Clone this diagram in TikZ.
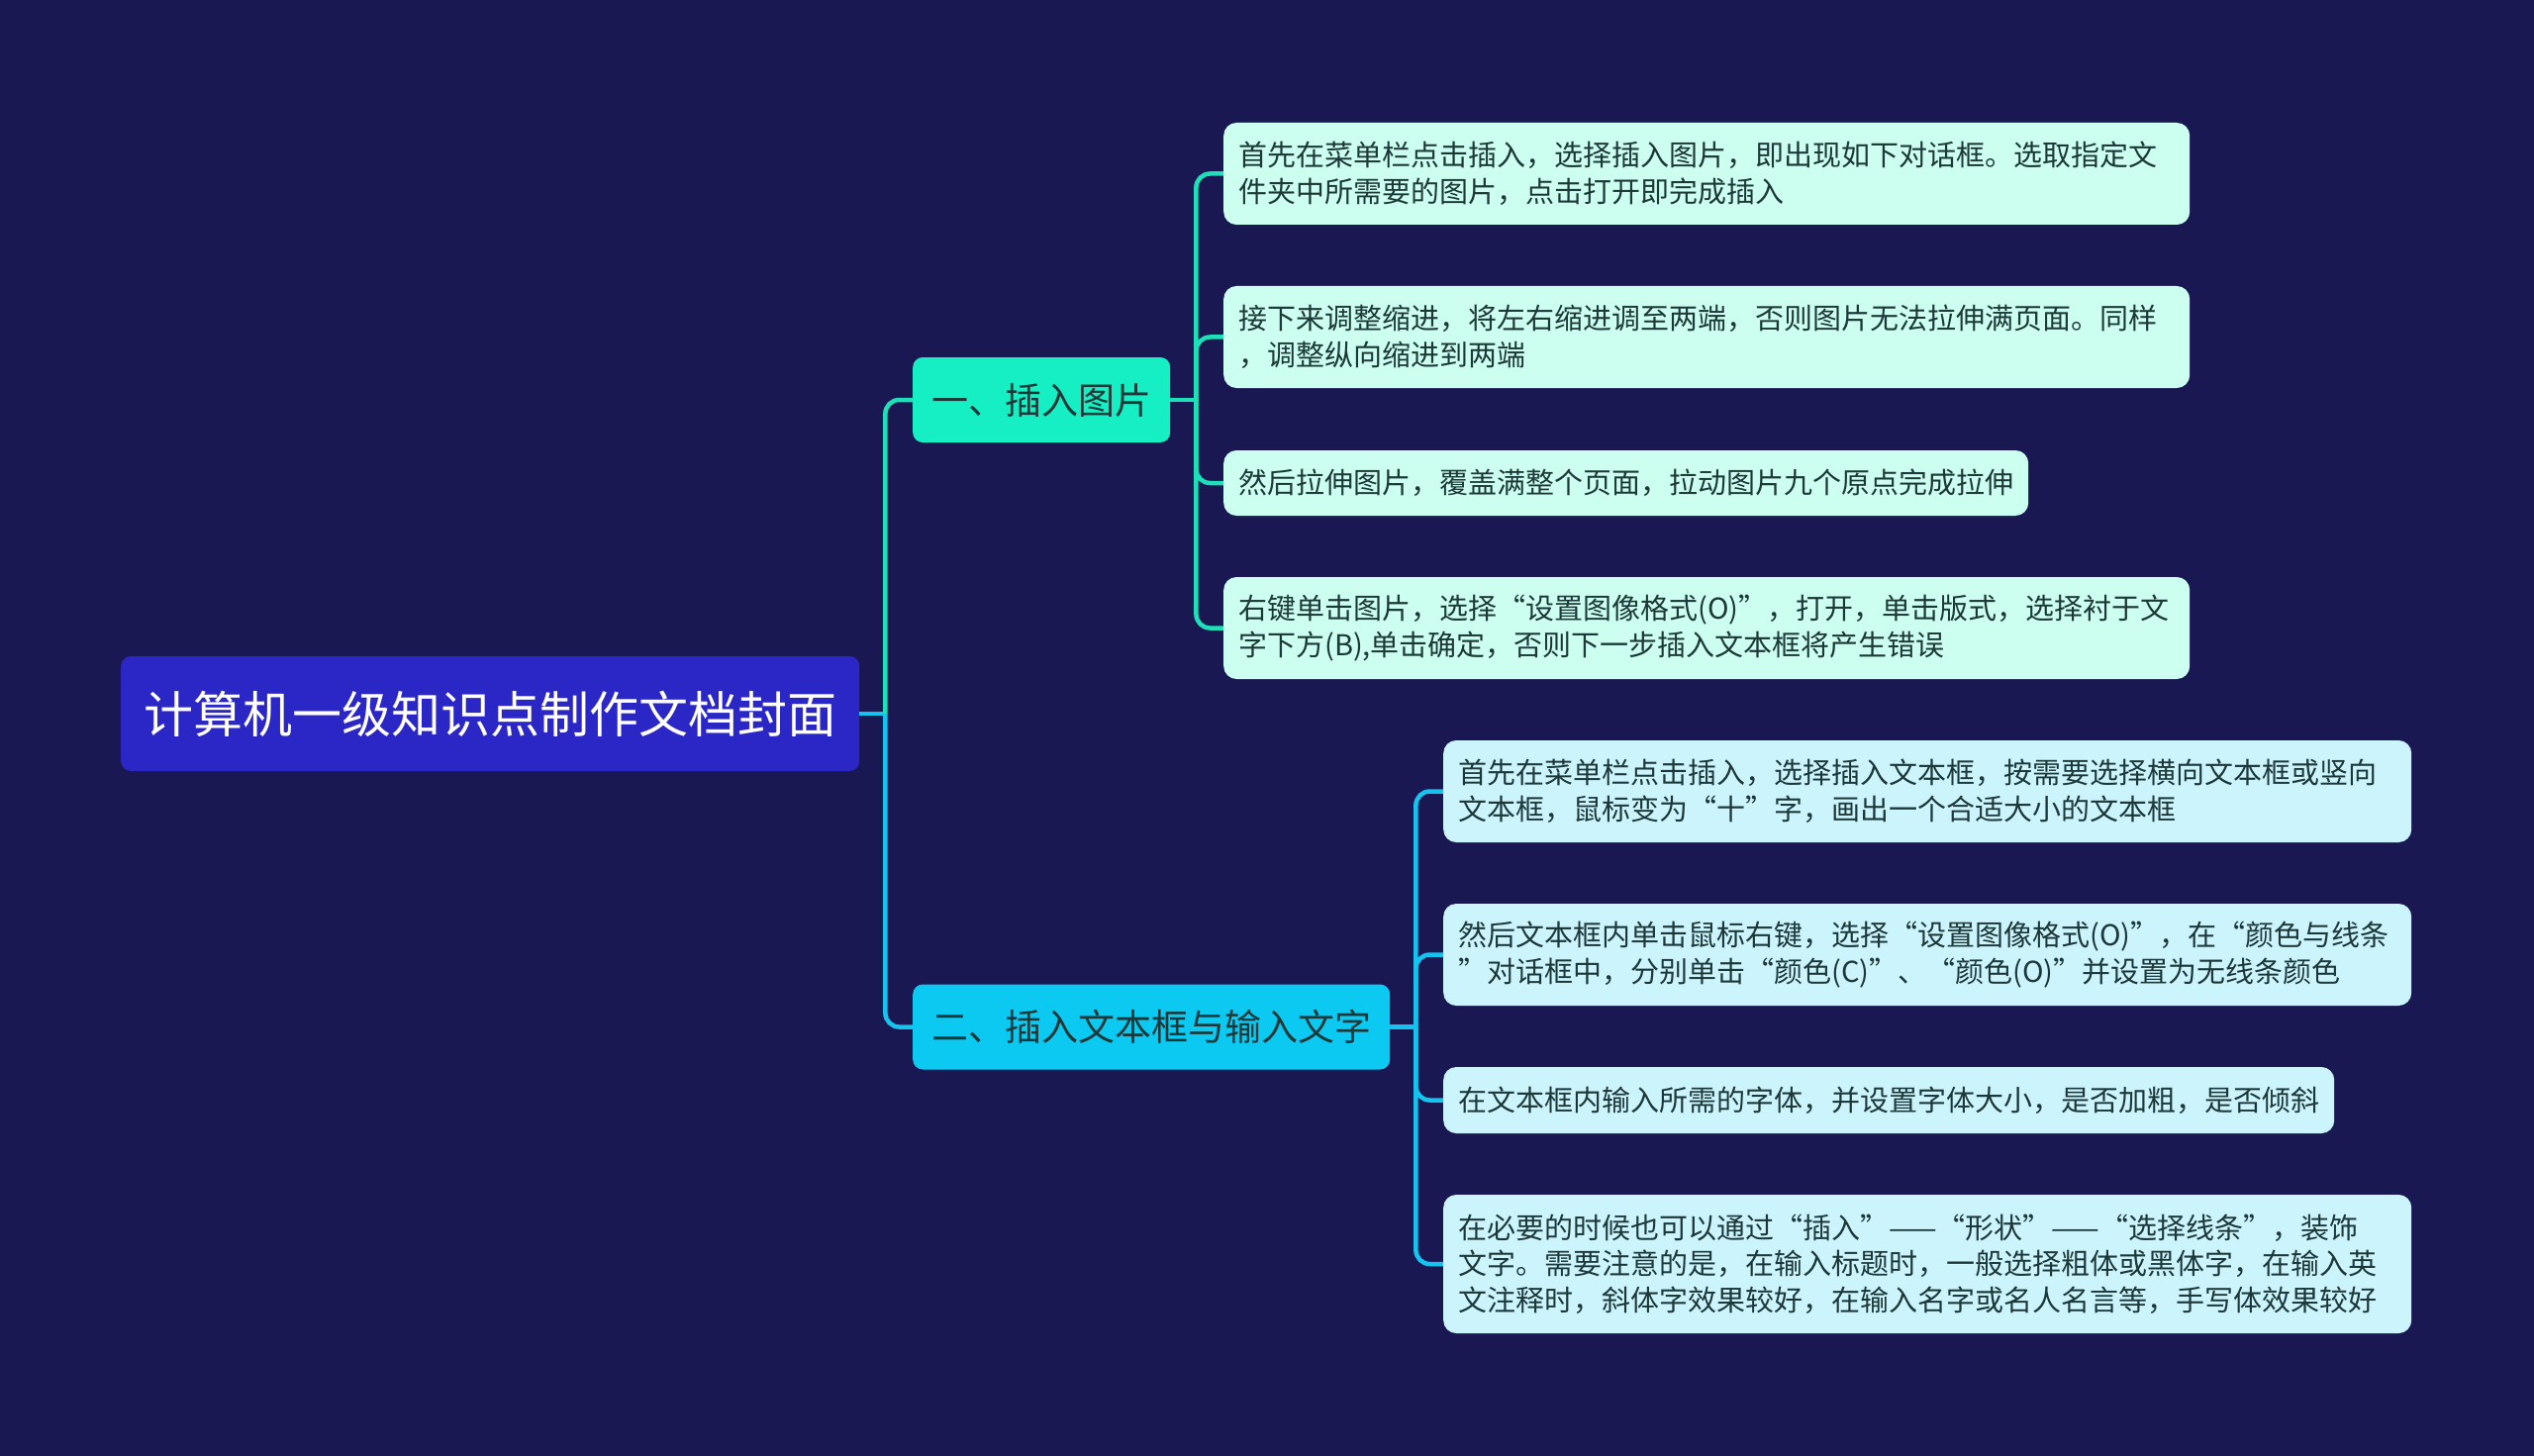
\documentclass[tikz,border=0pt]{standalone}
\usepackage{fontspec}
\setmainfont{Noto Sans CJK SC}
\usetikzlibrary{calc}
\definecolor{bg}{HTML}{1A1852}
\definecolor{rootc}{HTML}{2A27C6}
\definecolor{bonec}{HTML}{16EFC4}
\definecolor{btwoc}{HTML}{0BC9F1}
\definecolor{leafone}{HTML}{CCFFF0}
\definecolor{leaftwo}{HTML}{CCF4FD}
\definecolor{lineone}{HTML}{1DDFB8}
\definecolor{linetwo}{HTML}{14C3EE}
\definecolor{txt}{HTML}{1D3838}
\tikzset{
  rootbox/.style={fill=rootc, rounded corners=10pt, text=white, anchor=west,
    inner xsep=23pt, inner ysep=0pt, minimum height=116pt,
    font=\fontsize{50}{60}\selectfont},
  branchbox/.style={rounded corners=10pt, text=txt, anchor=west,
    inner xsep=19pt, inner ysep=0pt, minimum height=86pt,
    font=\fontsize{37}{44}\selectfont},
  leafbox/.style={rounded corners=13pt, text=txt, anchor=west, align=left,
    inner xsep=15pt, inner ysep=0pt,
    font=\fontsize{29}{36.5}\selectfont},
  wideone/.style={leafbox, fill=leafone, text width=946pt},
  widetwo/.style={leafbox, fill=leaftwo, text width=948pt},
  conn/.style={line width=4.5pt, rounded corners=14pt},
}
\begin{document}
\begin{tikzpicture}[x=1pt,y=-1pt]
\useasboundingbox (0,0) rectangle (2560,1471);
\fill[bg] (0,0) rectangle (2560,1471);

\node[rootbox] (root) at (122,721) {计算机一级知识点制作文档封面};
\node[branchbox, fill=bonec] (b1) at (922,404) {一、插入图片};
\node[branchbox, fill=btwoc] (b2) at (922,1037.5) {二、插入文本框与输入文字};

\node[wideone, minimum height=103pt] (l1) at (1236,175.5) {首先在菜单栏点击插入，选择插入图片，即出现如下对话框。选取指定文\\件夹中所需要的图片，点击打开即完成插入};
\node[wideone, minimum height=103pt] (l2) at (1236,340.5) {接下来调整缩进，将左右缩进调至两端，否则图片无法拉伸满页面。同样\\，调整纵向缩进到两端};
\node[leafbox, fill=leafone, minimum height=66pt] (l3) at (1236,488) {然后拉伸图片，覆盖满整个页面，拉动图片九个原点完成拉伸};
\node[wideone, minimum height=103pt] (l4) at (1236,634.5) {右键单击图片，选择“设置图像格式(O)”，打开，单击版式，选择衬于文\\字下方(B),单击确定，否则下一步插入文本框将产生错误};

\node[widetwo, minimum height=103pt] (m1) at (1458,799.5) {首先在菜单栏点击插入，选择插入文本框，按需要选择横向文本框或竖向\\文本框，鼠标变为“十”字，画出一个合适大小的文本框};
\node[widetwo, minimum height=103pt] (m2) at (1458,964.5) {然后文本框内单击鼠标右键，选择“设置图像格式(O)”，在“颜色与线条\\”对话框中，分别单击“颜色(C)”、“颜色(O)”并设置为无线条颜色};
\node[leafbox, fill=leaftwo, minimum height=67pt] (m3) at (1458,1111.5) {在文本框内输入所需的字体，并设置字体大小，是否加粗，是否倾斜};
\node[widetwo, minimum height=140pt] (m4) at (1458,1277) {在必要的时候也可以通过“插入”——“形状”——“选择线条”，装饰\\文字。需要注意的是，在输入标题时，一般选择粗体或黑体字，在输入英\\文注释时，斜体字效果较好，在输入名字或名人名言等，手写体效果较好};

\coordinate (j0) at ($(root.east)+(26,0)$);
\coordinate (j1) at ($(b1.east)+(26,0)$);
\coordinate (j2) at ($(b2.east)+(26,0)$);

\draw[conn, linetwo] (root.east) -- (j0);
\draw[conn, lineone] (j0) |- (b1.west);
\draw[conn, linetwo] (j0) |- (b2.west);

\draw[conn, lineone] (b1.east) -- (j1);
\draw[conn, lineone] (j1) |- (l1.west);
\draw[conn, lineone] (j1) |- (l2.west);
\draw[conn, lineone] (j1) |- (l3.west);
\draw[conn, lineone] (j1) |- (l4.west);

\draw[conn, linetwo] (b2.east) -- (j2);
\draw[conn, linetwo] (j2) |- (m1.west);
\draw[conn, linetwo] (j2) |- (m2.west);
\draw[conn, linetwo] (j2) |- (m3.west);
\draw[conn, linetwo] (j2) |- (m4.west);
\end{tikzpicture}
\end{document}
